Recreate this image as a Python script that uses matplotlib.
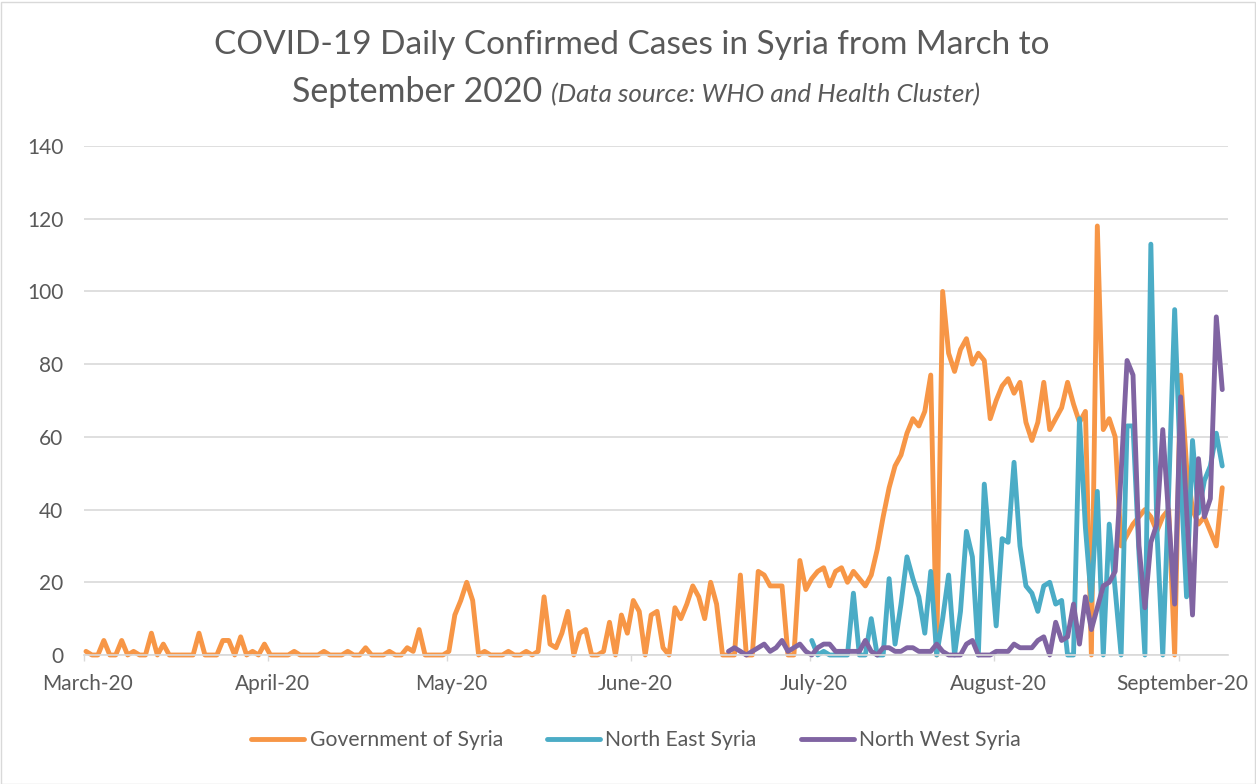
import numpy as np
import pandas as pd
import matplotlib
matplotlib.use("Agg")
import matplotlib.pyplot as plt
import matplotlib.dates as mdates
from matplotlib.patches import Rectangle
from matplotlib.transforms import ScaledTranslation

plt.rcParams['font.family'] = ['Lato', 'DejaVu Sans']

# daily confirmed cases
gov_start = "2020-03-01"
gov = [1, 0, 0, 4, 0, 0, 4, 0, 1, 0,
       0, 6, 0, 3, 0, 0, 0, 0, 0, 6,
       0, 0, 0, 4, 4, 0, 5, 0, 1, 0,
       3, 0, 0, 0, 0, 1, 0, 0, 0, 0,
       1, 0, 0, 0, 1, 0, 0, 2, 0, 0,
       0, 1, 0, 0, 2, 1, 7, 0, 0, 0,
       0, 1, 11, 15, 20, 15, 0, 1, 0, 0,
       0, 1, 0, 0, 1, 0, 1, 16, 3, 2,
       6, 12, 0, 6, 7, 0, 0, 1, 9, 0,
       11, 6, 15, 12, 0, 11, 12, 2, 0, 13,
       10, 14, 19, 16, 10, 20, 14, 0, 0, 0,
       22, 0, 0, 23, 22, 19, 19, 19, 0, 0,
       26, 18, 21, 23, 24, 19, 23, 24, 20, 23,
       21, 19, 22, 29, 38, 46, 52, 55, 61, 65,
       63, 67, 77, 0, 100, 83, 78, 84, 87, 80,
       83, 81, 65, 70, 74, 76, 72, 75, 64, 59,
       64, 75, 62, 65, 68, 75, 69, 64, 67, 0,
       118, 62, 65, 60, 30, 33, 36, 38, 40, 38,
       34, 38, 40, 0, 77, 52, 40, 36, 38, 34,
       30, 46]

ne_start = "2020-07-01"
ne = [4, 0, 1, 0, 0, 0, 0, 17, 0, 0,
      10, 0, 0, 21, 3, 14, 27, 21, 16, 6,
      23, 0, 10, 22, 0, 12, 34, 27, 0, 47,
      28, 8, 32, 31, 53, 30, 19, 17, 12, 19,
      20, 14, 15, 0, 0, 65, 35, 15, 45, 0,
      36, 18, 0, 63, 63, 28, 0, 113, 35, 0,
      45, 95, 50, 16, 59, 39, 48, 52, 61, 52]

nw_start = "2020-06-17"
nw = [1, 2, 1, 0, 1, 2, 3, 1, 2, 4,
      1, 2, 3, 1, 0, 2, 3, 3, 1, 1,
      1, 1, 1, 4, 1, 0, 2, 2, 1, 1,
      2, 2, 1, 1, 1, 3, 1, 0, 0, 0,
      3, 4, 0, 0, 0, 1, 1, 1, 3, 2,
      2, 2, 4, 5, 0, 9, 4, 5, 14, 3,
      16, 7, 13, 19, 20, 23, 50, 81, 77, 30,
      13, 31, 36, 62, 38, 14, 71, 40, 11, 54,
      38, 43, 93, 73]

series = [("Government of Syria", gov_start, gov, "#F79646"),
          ("North East Syria", ne_start, ne, "#4BACC6"),
          ("North West Syria", nw_start, nw, "#8064A2")]

text_col = "#595959"
grid_col = "#D9D9D9"

fig = plt.figure(figsize=(12.56, 7.84), dpi=100)
ax = fig.add_axes([84 / 1256, 1 - 655 / 784, (1228 - 84) / 1256, (655 - 146) / 784])

for name, s, vals, col in series:
    dates = pd.date_range(s, periods=len(vals)) + pd.Timedelta(hours=8)
    ax.plot(dates, vals, color=col, lw=3.5, label=name, clip_on=False,
            solid_joinstyle="round", solid_capstyle="round")

t0 = pd.Timestamp(gov_start)
ax.set_xlim(t0, t0 + pd.Timedelta(days=192.3))
ax.set_ylim(0, 140)
ax.set_yticks(np.arange(0, 141, 20))
ax.xaxis.set_major_locator(mdates.MonthLocator())
ax.xaxis.set_major_formatter(mdates.DateFormatter("%B-%y"))

ax.grid(axis="y", color=grid_col, lw=1.2)
ax.set_axisbelow(True)
for sp in ["top", "right", "left"]:
    ax.spines[sp].set_visible(False)
ax.spines["bottom"].set_color(grid_col)
ax.spines["bottom"].set_linewidth(1.2)
ax.tick_params(axis="y", length=0, pad=15, labelsize=15, labelcolor=text_col)
ax.tick_params(axis="x", length=4, width=1, color=grid_col, pad=10,
               labelsize=15, labelcolor=text_col)
shift = ScaledTranslation(4 / 100, 0, fig.dpi_scale_trans)
for lab in ax.get_xticklabels():
    lab.set_transform(lab.get_transform() + shift)

fig.text(632 / 1256, 1 - 45 / 784, "COVID-19 Daily Confirmed Cases in Syria from March to",
         ha="center", va="center", fontsize=24, color=text_col)
fig.text(542 / 1256, 1 - 92 / 784, "September 2020", ha="right", va="center",
         fontsize=24.5, color=text_col)
fig.text(551 / 1256, 1 - 95 / 784, "(Data source: WHO and Health Cluster)", ha="left",
         va="center", fontsize=18.7, color=text_col, style="italic")

leg = fig.legend(loc="center", bbox_to_anchor=(636 / 1256, 1 - 740 / 784), ncol=3,
                 frameon=False, fontsize=15.2, handlelength=2.5, handletextpad=0.25,
                 columnspacing=2.1)
for t in leg.get_texts():
    t.set_color(text_col)

fig.patches.append(Rectangle((0.5 / 1256, 0.5 / 784), 1 - 2 / 1256, 1 - 2 / 784,
                             transform=fig.transFigure, fill=False,
                             edgecolor=grid_col, lw=1))

fig.savefig("out.png", dpi=100)
